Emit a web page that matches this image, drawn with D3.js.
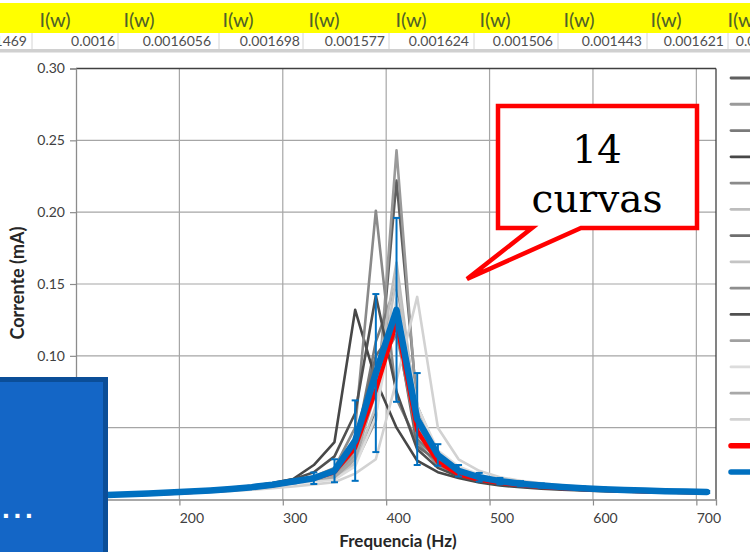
<!DOCTYPE html>
<html><head><meta charset="utf-8">
<script src="https://cdn.jsdelivr.net/npm/d3@7"></script>
<style>
html,body{margin:0;padding:0;background:#fff;overflow:hidden;}
svg{display:block;}
</style></head>
<body><svg id="c" width="750" height="552"></svg>
<script>
// ---------------- data ----------------
const freq = [110,130,150,170,190,210,230,250,270,290,310,330,350,370,390,410,430,450,470,490,510,530,550,570,590,610,630,650,670,690,710];
const s1  = [0.0027,0.0031,0.0036,0.0041,0.0047,0.0054,0.0062,0.0072,0.0085,0.0101,0.0122,0.0135,0.0165,0.0280,0.0600,0.2220,0.0650,0.0320,0.0210,0.0158,0.0130,0.0112,0.0098,0.0088,0.0080,0.0073,0.0067,0.0063,0.0059,0.0056,0.0053];
const s2  = [0.0028,0.0032,0.0037,0.0042,0.0048,0.0055,0.0063,0.0073,0.0086,0.0102,0.0120,0.0133,0.0155,0.0250,0.0550,0.2430,0.0600,0.0300,0.0200,0.0155,0.0127,0.0109,0.0096,0.0086,0.0078,0.0071,0.0066,0.0061,0.0057,0.0054,0.0051];
const s3  = [0.0029,0.0033,0.0038,0.0043,0.0049,0.0056,0.0064,0.0075,0.0088,0.0105,0.0127,0.0150,0.0180,0.0360,0.1100,0.1500,0.0420,0.0280,0.0190,0.0148,0.0122,0.0105,0.0093,0.0083,0.0076,0.0069,0.0064,0.0059,0.0055,0.0052,0.0049];
const s4  = [0.0032,0.0036,0.0041,0.0047,0.0054,0.0062,0.0071,0.0082,0.0095,0.0115,0.0143,0.0240,0.0400,0.1320,0.0830,0.0500,0.0270,0.0190,0.0150,0.0118,0.0098,0.0085,0.0076,0.0069,0.0063,0.0058,0.0054,0.0050,0.0047,0.0045,0.0043];
const s5  = [0.0029,0.0033,0.0038,0.0044,0.0050,0.0057,0.0066,0.0076,0.0090,0.0108,0.0132,0.0160,0.0220,0.0500,0.2010,0.0700,0.0400,0.0240,0.0170,0.0135,0.0113,0.0098,0.0087,0.0078,0.0071,0.0065,0.0060,0.0056,0.0052,0.0049,0.0047];
const s6  = [0.0027,0.0031,0.0036,0.0041,0.0047,0.0054,0.0062,0.0072,0.0084,0.0100,0.0120,0.0140,0.0160,0.0300,0.0800,0.1650,0.0550,0.0320,0.0210,0.0160,0.0131,0.0112,0.0099,0.0089,0.0081,0.0074,0.0068,0.0063,0.0059,0.0056,0.0053];
const s7  = [0.0029,0.0034,0.0039,0.0044,0.0050,0.0058,0.0066,0.0077,0.0090,0.0107,0.0130,0.0155,0.0190,0.0400,0.1000,0.1200,0.0370,0.0270,0.0180,0.0142,0.0118,0.0102,0.0090,0.0081,0.0074,0.0068,0.0062,0.0058,0.0054,0.0051,0.0048];
const s8  = [0.0027,0.0031,0.0035,0.0040,0.0046,0.0053,0.0061,0.0070,0.0082,0.0097,0.0116,0.0133,0.0150,0.0250,0.0650,0.1550,0.0600,0.0330,0.0220,0.0165,0.0134,0.0115,0.0101,0.0090,0.0082,0.0075,0.0069,0.0064,0.0060,0.0056,0.0053];
const s9  = [0.0028,0.0032,0.0037,0.0042,0.0048,0.0055,0.0064,0.0074,0.0087,0.0104,0.0125,0.0146,0.0170,0.0340,0.0900,0.1150,0.0450,0.0290,0.0200,0.0153,0.0126,0.0108,0.0095,0.0085,0.0077,0.0071,0.0065,0.0061,0.0057,0.0053,0.0050];
const s10 = [0.0030,0.0035,0.0040,0.0046,0.0053,0.0060,0.0069,0.0080,0.0094,0.0112,0.0140,0.0190,0.0300,0.0600,0.1420,0.0750,0.0350,0.0220,0.0160,0.0126,0.0105,0.0091,0.0081,0.0073,0.0066,0.0061,0.0056,0.0052,0.0049,0.0046,0.0044];
const s11 = [0.0028,0.0032,0.0037,0.0042,0.0048,0.0055,0.0063,0.0073,0.0086,0.0102,0.0123,0.0143,0.0165,0.0310,0.0850,0.1350,0.0480,0.0300,0.0200,0.0155,0.0128,0.0110,0.0097,0.0087,0.0079,0.0072,0.0066,0.0062,0.0058,0.0054,0.0051];
const s12 = [0.0026,0.0030,0.0034,0.0039,0.0045,0.0051,0.0058,0.0067,0.0078,0.0092,0.0110,0.0126,0.0140,0.0230,0.0580,0.1400,0.0650,0.0340,0.0230,0.0172,0.0139,0.0119,0.0104,0.0093,0.0084,0.0077,0.0071,0.0066,0.0061,0.0057,0.0054];
const s13 = [0.0028,0.0032,0.0036,0.0041,0.0047,0.0054,0.0062,0.0072,0.0085,0.0101,0.0121,0.0140,0.0155,0.0280,0.0750,0.1250,0.0500,0.0300,0.0200,0.0156,0.0128,0.0110,0.0097,0.0087,0.0079,0.0072,0.0067,0.0062,0.0058,0.0054,0.0051];
const s14 = [0.0026,0.0029,0.0033,0.0037,0.0042,0.0047,0.0053,0.0060,0.0068,0.0078,0.0090,0.0105,0.0120,0.0180,0.0280,0.0830,0.1410,0.0500,0.0280,0.0200,0.0155,0.0130,0.0112,0.0099,0.0089,0.0080,0.0073,0.0068,0.0063,0.0059,0.0056];
const redCurve  = [0.0026,0.0030,0.0034,0.0039,0.0045,0.0051,0.0059,0.0069,0.0082,0.0098,0.0120,0.0145,0.0190,0.0360,0.0760,0.1230,0.0480,0.0260,0.0175,0.0138,0.0115,0.0099,0.0088,0.0079,0.0072,0.0066,0.0061,0.0057,0.0054,0.0051,0.0048];
const blueCurve = [0.0028,0.0032,0.0037,0.0042,0.0048,0.0055,0.0063,0.0073,0.0086,0.0103,0.0125,0.0148,0.0200,0.0410,0.0880,0.1320,0.0560,0.0310,0.0200,0.0155,0.0128,0.0110,0.0097,0.0087,0.0079,0.0072,0.0066,0.0062,0.0058,0.0055,0.0052];
const blueErr   = [0.0002,0.0002,0.0002,0.0003,0.0003,0.0003,0.0004,0.0005,0.0006,0.0008,0.0012,0.0040,0.0080,0.0280,0.0550,0.0640,0.0320,0.0075,0.0040,0.0030,0.0022,0.0018,0.0015,0.0013,0.0012,0.0011,0.0010,0.0009,0.0008,0.0008,0.0007];
const xTicks = [100,200,300,400,500,600,700];
const yTicks = [0,0.05,0.10,0.15,0.20,0.25,0.30];
const headerLabels = ["I(w)","I(w)","I(w)","I(w)","I(w)","I(w)","I(w)","I(w)","I(w)"];
const headerValues = ["0.001469","0.0016","0.0016056","0.001698","0.001577","0.001624","0.001506","0.001443","0.001621","0.001588"];

// ---------------- styles / layout ----------------
const grayColors = ["#5f5f5f","#9a9a9a","#7a7a7a","#474747","#8a8a8a","#bdbdbd","#6e6e6e","#c4c4c4","#8e8e8e","#505050","#a0a0a0","#dcdcdc","#a8a8a8","#d2d2d2"];
const series = [s1,s2,s3,s4,s5,s6,s7,s8,s9,s10,s11,s12,s13,s14];
const headerLabelX = [55,139,238,324,411,495,579,666,743];
const headerValueRight = [27,115,211,300,385,469,553,642,724,796];
const headerSeps = [32,118,219,303,389,474,558,647,728];

const svg = d3.select("#c");
const x = d3.scaleLinear().domain([100,719]).range([76,716]);
const y = d3.scaleLinear().domain([0,0.30]).range([499.5,68.5]);
const FONT = "Lato, 'Open Sans', sans-serif";

// gridlines
const g = svg.append("g");
g.selectAll(".hg").data(yTicks.slice(1)).join("line")
  .attr("x1",x(100)).attr("x2",x(719)).attr("y1",d=>y(d)).attr("y2",d=>y(d))
  .attr("stroke","#a6a6a6").attr("stroke-width",1.2);
g.selectAll(".vg").data(xTicks.slice(1)).join("line")
  .attr("y1",y(0)).attr("y2",y(0.30)).attr("x1",d=>x(d)).attr("x2",d=>x(d))
  .attr("stroke","#a6a6a6").attr("stroke-width",1.2);

// frame
g.append("line").attr("x1",x(100)).attr("x2",x(719)).attr("y1",y(0.30)).attr("y2",y(0.30)).attr("stroke","#404040").attr("stroke-width",1.3);
g.append("line").attr("x1",x(719)).attr("x2",x(719)).attr("y1",y(0.30)).attr("y2",y(0)).attr("stroke","#404040").attr("stroke-width",1.3);

// axes
const xAxis = d3.axisBottom(x).tickValues(xTicks).tickSize(6).tickFormat(d3.format("d"));
const yAxis = d3.axisLeft(y).tickValues(yTicks).tickSize(6).tickFormat(d3.format(".2f"));
const gx = svg.append("g").attr("transform",`translate(0,${y(0)})`).call(xAxis);
const gy = svg.append("g").attr("transform",`translate(${x(100)},0)`).call(yAxis);
[gx,gy].forEach(a=>{
  a.select(".domain").attr("stroke","#8c8c8c").attr("stroke-width",1.3);
  a.selectAll(".tick line").attr("stroke","#8c8c8c").attr("stroke-width",1.2);
  a.selectAll(".tick text").attr("font-family",FONT).attr("font-size",14).attr("fill","#404040");
});
gx.selectAll(".tick text").attr("dx",12).attr("dy","1.05em");
gy.selectAll(".tick text").attr("dx",-2);

// axis titles
svg.append("text").attr("x",398).attr("y",547).attr("text-anchor","middle")
  .attr("font-family",FONT).attr("font-weight","bold").attr("font-size",17).attr("fill","#262626")
  .text("Frequencia (Hz)");
svg.append("text").attr("transform","translate(24,283) rotate(-90)").attr("text-anchor","middle")
  .attr("font-family",FONT).attr("font-weight","bold").attr("font-size",18).attr("fill","#262626")
  .text("Corrente (mA)");

// curves
const line = d3.line().x((d,i)=>x(freq[i])).y(d=>y(d));
const curves = svg.append("g").attr("fill","none").attr("stroke-linejoin","round").attr("stroke-linecap","round");
series.forEach((s,k)=>{
  curves.append("path").attr("d",line(s)).attr("stroke",grayColors[k]).attr("stroke-width",2.6);
});
curves.append("path").attr("d",line(redCurve)).attr("stroke","#ff0000").attr("stroke-width",4.2);
// error bars
const eb = svg.append("g").attr("stroke","#0070c0").attr("stroke-width",2);
freq.forEach((f,i)=>{
  const cx = x(f), y1 = y(blueCurve[i]+blueErr[i]), y2 = y(blueCurve[i]-blueErr[i]);
  eb.append("line").attr("x1",cx).attr("x2",cx).attr("y1",y1).attr("y2",y2);
  eb.append("line").attr("x1",cx-3.5).attr("x2",cx+3.5).attr("y1",y1).attr("y2",y1);
  eb.append("line").attr("x1",cx-3.5).attr("x2",cx+3.5).attr("y1",y2).attr("y2",y2);
});
const blueGroup = svg.append("g").attr("fill","none").attr("stroke-linejoin","round").attr("stroke-linecap","round");
blueGroup.append("path").attr("d",line(blueCurve)).attr("stroke","#0070c0").attr("stroke-width",6.5);

// legend stubs (text cut off by the window edge)
const legendColors = grayColors.concat(["#ff0000","#0070c0"]);
const legendY = d3.scaleLinear().domain([0,15]).range([78,472]);
svg.append("g").selectAll("line").data(legendColors).join("line")
  .attr("x1",731).attr("x2",770).attr("y1",(d,i)=>legendY(i)).attr("y2",(d,i)=>legendY(i))
  .attr("stroke",d=>d).attr("stroke-linecap","round")
  .attr("stroke-width",(d,i)=>i>=14?5.5:2.8);

// header (spreadsheet strip)
const hd = svg.append("g");
hd.append("rect").attr("x",0).attr("y",0).attr("width",750).attr("height",3).attr("fill","#ffffff");
hd.append("rect").attr("x",0).attr("y",3).attr("width",750).attr("height",30).attr("fill","#ffff00");
hd.append("rect").attr("x",0).attr("y",33).attr("width",750).attr("height",16).attr("fill","#ffffff");
hd.append("rect").attr("x",0).attr("y",49).attr("width",750).attr("height",3.5).attr("fill","#d0d0d0");
hd.selectAll(".sep").data(headerSeps).join("line")
  .attr("x1",d=>d).attr("x2",d=>d).attr("y1",33).attr("y2",49).attr("stroke","#d4d4d4").attr("stroke-width",1);
hd.selectAll(".lab").data(headerLabels).join("text")
  .attr("x",(d,i)=>headerLabelX[i]).attr("y",27).attr("text-anchor","middle")
  .attr("font-family",FONT).attr("font-size",20).attr("fill","#4f6228").text(d=>d);
hd.selectAll(".val").data(headerValues).join("text")
  .attr("x",(d,i)=>headerValueRight[i]).attr("y",46).attr("text-anchor","end")
  .attr("font-family",FONT).attr("font-size",14).attr("fill","#505050").text(d=>d);

// blue box bottom-left
svg.append("rect").attr("x",-20).attr("y",379.5).attr("width",125.5).attr("height",200)
  .attr("fill","#1466c6").attr("stroke","#0b4e98").attr("stroke-width",5);
svg.append("text").attr("x",2).attr("y",518).attr("font-family","'Liberation Sans', Arial, sans-serif")
  .attr("font-weight","bold").attr("font-size",28).attr("letter-spacing",3.7).attr("fill","#ffffff").text("...");

// callout
const co = svg.append("g");
co.append("path")
  .attr("d","M498,106 L697,106 L697,228 L581,228 L467,279 L532,228 L498,228 Z")
  .attr("fill","#ffffff").attr("stroke","#ff0000").attr("stroke-width",4.5).attr("stroke-linejoin","miter");
co.append("text").attr("x",597).attr("y",163).attr("text-anchor","middle")
  .attr("font-family","'DejaVu Serif', serif").attr("font-size",39).attr("fill","#000").text("14");
co.append("text").attr("x",597).attr("y",212).attr("text-anchor","middle")
  .attr("font-family","'DejaVu Serif', serif").attr("font-size",39).attr("fill","#000").text("curvas");
</script></body></html>
